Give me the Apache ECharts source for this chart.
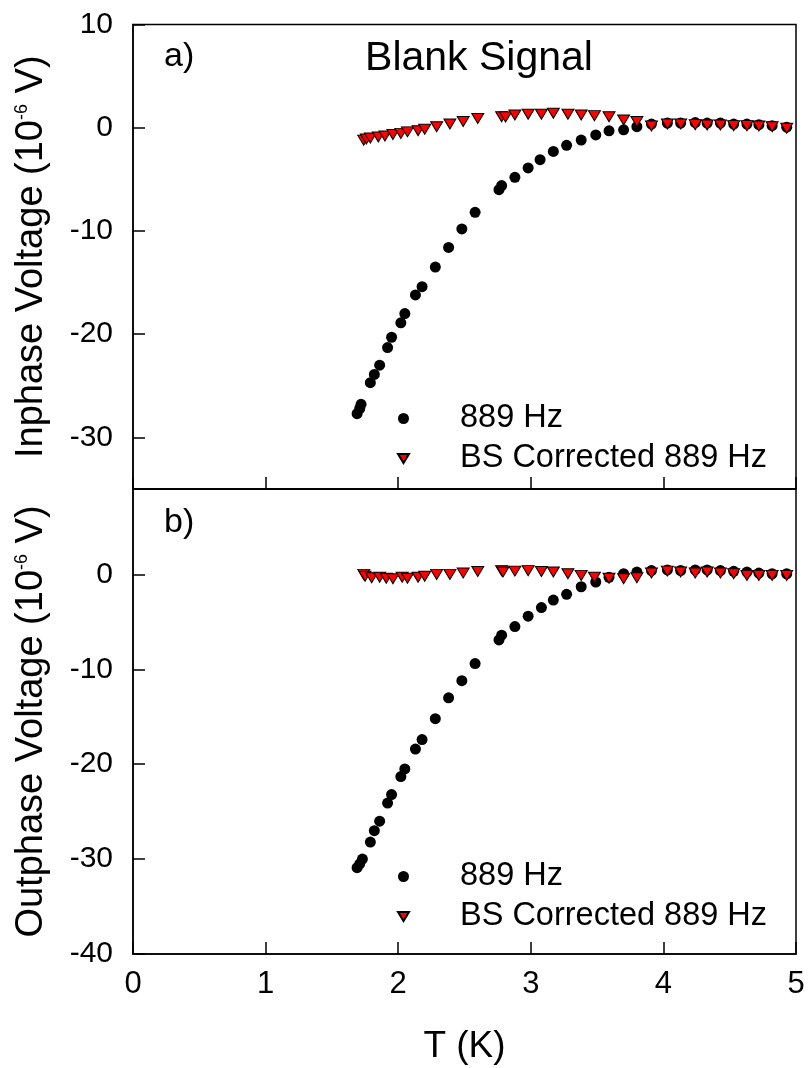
<!DOCTYPE html>
<html>
<head>
<meta charset="utf-8">
<script src="https://cdn.jsdelivr.net/npm/echarts@6.0.0/dist/echarts.min.js"></script>
<style>
html,body{margin:0;padding:0;background:#fff;}
#chart{width:808px;height:1068px;}
</style>
</head>
<body>
<div id="chart"></div>
<script>
// ---- Data ----
const xTicks = [0, 1, 2, 3, 4, 5];
const yTicksA = [-30, -20, -10, 0, 10];
const yTicksB = [-40, -30, -20, -10, 0];

// Panel a) Inphase
const aT889 = [1.69,1.71,1.72,1.79,1.82,1.86,1.92,1.95,2.02,2.05,2.13,2.18,2.28,2.38,2.48,2.58,2.76,2.78,2.88,2.98,3.07,3.17,3.27,3.38,3.49,3.59,3.70,3.80,3.91,4.03,4.13,4.24,4.33,4.43,4.53,4.63,4.72,4.82,4.93];
const aV889 = [-27.7,-27.2,-26.8,-24.7,-23.9,-23.0,-21.3,-20.3,-18.9,-18.0,-16.2,-15.4,-13.5,-11.6,-9.8,-8.2,-6.0,-5.6,-4.8,-3.9,-3.1,-2.3,-1.7,-1.2,-0.7,-0.3,-0.2,0.1,0.35,0.45,0.45,0.5,0.45,0.45,0.35,0.35,0.3,0.2,0.05];
const aTBS = [1.74,1.76,1.79,1.85,1.90,1.96,2.02,2.07,2.15,2.20,2.29,2.39,2.49,2.60,2.78,2.81,2.88,2.98,3.08,3.17,3.28,3.38,3.48,3.59,3.70,3.80,3.91,4.03,4.13,4.24,4.33,4.43,4.53,4.63,4.72,4.82,4.93];
const aVBS = [-1.2,-1.1,-1.0,-0.9,-0.8,-0.65,-0.55,-0.4,-0.3,-0.15,0.1,0.36,0.6,0.9,1.07,1.05,1.23,1.3,1.3,1.4,1.3,1.23,1.17,1.07,0.75,0.6,0.17,0.36,0.36,0.3,0.26,0.26,0.2,0.2,0.17,0.1,-0.05];

// Panel b) Outphase
const bT889 = [1.69,1.71,1.73,1.79,1.82,1.86,1.92,1.95,2.02,2.05,2.13,2.18,2.28,2.38,2.48,2.58,2.76,2.78,2.88,2.98,3.08,3.17,3.27,3.38,3.49,3.59,3.70,3.80,3.91,4.03,4.13,4.24,4.33,4.43,4.53,4.63,4.72,4.82,4.93];
const bV889 = [-30.9,-30.5,-30.0,-28.2,-27.0,-26.0,-24.1,-23.2,-21.3,-20.5,-18.4,-17.4,-15.2,-13.0,-11.2,-9.4,-6.9,-6.4,-5.5,-4.4,-3.5,-2.7,-2.1,-1.3,-0.8,-0.3,0.07,0.25,0.4,0.47,0.4,0.47,0.47,0.4,0.33,0.25,0.14,0.07,0.07];
const bTBS = [1.74,1.75,1.80,1.86,1.91,1.96,2.03,2.07,2.15,2.20,2.29,2.39,2.49,2.60,2.78,2.79,2.88,2.98,3.08,3.17,3.28,3.38,3.48,3.59,3.70,3.80,3.91,4.03,4.13,4.24,4.33,4.43,4.53,4.63,4.72,4.82,4.93];
const bVBS = [0.0,-0.2,-0.35,-0.3,-0.4,-0.45,-0.3,-0.4,-0.3,-0.2,0.0,0.0,0.14,0.3,0.4,0.25,0.35,0.4,0.3,0.25,0.07,-0.1,-0.3,-0.4,-0.45,-0.35,0.14,0.35,0.25,0.14,0.25,0.14,0.07,-0.1,-0.1,-0.1,-0.1];

const name889 = '889 Hz';
const nameBS = 'BS Corrected 889 Hz';

// ---- Chart ----
const FONT = '"Liberation Sans", Arial, Helvetica, sans-serif';
const zip = (xs, ys) => xs.map((x, i) => [x, ys[i]]);
const TRI = 'path://M0,0 L12,0 L6,10 Z';

const chart = echarts.init(document.getElementById('chart'), null, {renderer: 'canvas'});

const tickStyle = {show: true, inside: true, length: 12, lineStyle: {color: '#000', width: 1.5}};
const lineStyle = {show: true, onZero: false, lineStyle: {color: '#000', width: 1.5}};

function yAxis(gridIndex, min, max, ticks, title) {
  return {
    type: 'value', gridIndex, min, max,
    axisLine: lineStyle,
    axisTick: Object.assign({}, tickStyle, {customValues: ticks}),
    axisLabel: {customValues: ticks, color: '#000', fontSize: 30, fontFamily: FONT, margin: 20},
    splitLine: {show: false},
    name: title,
    nameLocation: 'middle',
    nameRotate: 90,
    nameGap: 82,
    nameTextStyle: {
      color: '#000', fontSize: 38, fontFamily: FONT,
      rich: {
        m: {fontSize: 38, fontFamily: FONT, color: '#000'},
        sup: {fontSize: 18, fontFamily: FONT, color: '#000', verticalAlign: 'top'}
      }
    }
  };
}

function legend(top) {
  return {
    orient: 'vertical', left: 392, top: top,
    itemWidth: 11, itemHeight: 11, itemGap: 7,
    selectedMode: false,
    data: [name889, nameBS],
    textStyle: {color: '#000', fontSize: 32.5, fontFamily: FONT, lineHeight: 33, padding: [0, 0, 0, 46]}
  };
}

const option = {
  backgroundColor: '#fff',
  animation: false,
  title: {
    text: 'Blank Signal', left: 479, top: 38, textAlign: 'center', padding: 0,
    textStyle: {color: '#000', fontSize: 41, fontWeight: 'normal', fontFamily: FONT}
  },
  legend: [legend(397), legend(855)],
  grid: [
    {left: 133, top: 24.5, width: 663, height: 464.5, show: true, borderColor: '#000', borderWidth: 1.5, containLabel: false},
    {left: 133, top: 489, width: 663, height: 465, show: true, borderColor: '#000', borderWidth: 1.5, containLabel: false}
  ],
  xAxis: [
    {type: 'value', gridIndex: 0, min: 0, max: 5, interval: 1,
     axisLine: lineStyle, axisTick: tickStyle, axisLabel: {show: false}, splitLine: {show: false}},
    {type: 'value', gridIndex: 1, min: 0, max: 5, interval: 1,
     axisLine: lineStyle, axisTick: tickStyle,
     axisLabel: {color: '#000', fontSize: 31, fontFamily: FONT, margin: 15, customValues: xTicks},
     splitLine: {show: false},
     name: 'T (K)', nameLocation: 'middle', nameGap: 74,
     nameTextStyle: {color: '#000', fontSize: 37, fontFamily: FONT}}
  ],
  yAxis: [
    yAxis(0, -35, 10, yTicksA, '{m|Inphase Voltage (10}{sup|-6}{m| V)}'),
    yAxis(1, -40, 9, yTicksB, '{m|Outphase Voltage (10}{sup|-6}{m| V)}')
  ],
  graphic: [
    {type: 'text', left: 164, top: 40, style: {text: 'a)', font: '34px ' + FONT, fill: '#000'}},
    {type: 'text', left: 164, top: 506, style: {text: 'b)', font: '34px ' + FONT, fill: '#000'}}
  ],
  series: [
    {name: name889, type: 'scatter', xAxisIndex: 0, yAxisIndex: 0, data: zip(aT889, aV889),
     symbol: 'circle', symbolSize: 11, itemStyle: {color: '#000', opacity: 1}},
    {name: nameBS, type: 'scatter', xAxisIndex: 0, yAxisIndex: 0, data: zip(aTBS, aVBS),
     symbol: TRI, symbolSize: [12, 10], itemStyle: {color: '#ff0000', borderColor: '#000', borderWidth: 1, opacity: 1}},
    {name: name889, type: 'scatter', xAxisIndex: 1, yAxisIndex: 1, data: zip(bT889, bV889),
     symbol: 'circle', symbolSize: 11, itemStyle: {color: '#000', opacity: 1}},
    {name: nameBS, type: 'scatter', xAxisIndex: 1, yAxisIndex: 1, data: zip(bTBS, bVBS),
     symbol: TRI, symbolSize: [12, 10], itemStyle: {color: '#ff0000', borderColor: '#000', borderWidth: 1, opacity: 1}}
  ]
};
chart.setOption(option);
</script>
</body>
</html>
